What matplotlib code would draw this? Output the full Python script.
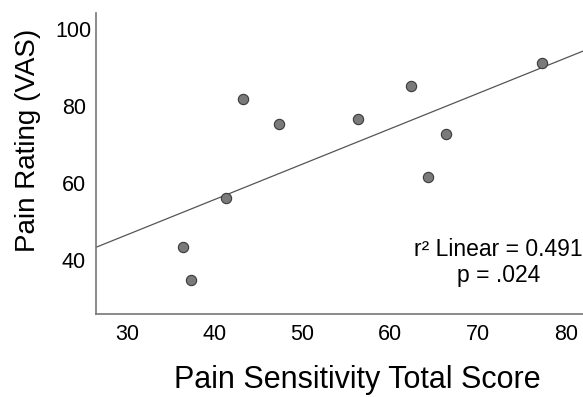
import matplotlib.pyplot as plt
import numpy as np

plt.rcParams['font.family'] = ['Liberation Sans', 'DejaVu Sans']

# values
sensitivity = [43.2, 47.3, 56.3, 62.3, 66.3, 77.3, 41.3, 36.3, 37.3, 64.3]
pain_rating = [81.7, 75.2, 76.5, 85.1, 72.6, 91.2, 56.1, 43.2, 34.7, 61.4]
x_ticks = [30, 40, 50, 60, 70, 80]
y_ticks = [40, 60, 80, 100]

fig = plt.figure(figsize=(5.83, 3.97), dpi=100)
ax = fig.add_axes([0.1647, 0.2083, 0.8353, 0.7597])

x_lo, x_hi = 26.44, 81.96
ax.set_xlim(x_lo, x_hi)
ax.set_ylim(25.75, 104.2)

# linear fit
slope, intercept = np.polyfit(sensitivity, pain_rating, 1)
fx = np.array([x_lo, x_hi])
ax.plot(fx, slope * fx + intercept, color="#555555", lw=0.9, zorder=2)

ax.scatter(sensitivity, pain_rating, s=55, color="#7a7a7a",
           edgecolor="#3a3a3a", linewidth=0.8, zorder=3)

ax.text(0.826, 0.171, "r² Linear = 0.491\np = .024", transform=ax.transAxes,
        ha="center", va="center", fontsize=16.5, linespacing=1.17)

ax.set_xticks(x_ticks)
ax.set_yticks(y_ticks)
ax.tick_params(length=0, labelsize=15.5)
ax.tick_params(axis="x", pad=7)
ax.tick_params(axis="y", pad=16)
for lab in ax.get_yticklabels():
    lab.set_horizontalalignment("center")
for s in ["top", "right"]:
    ax.spines[s].set_visible(False)
for s in ["left", "bottom"]:
    ax.spines[s].set_color("#777777")
    ax.spines[s].set_linewidth(1.2)

ax.set_xlabel("Pain Sensitivity Total Score", fontsize=22, va="center")
ax.set_ylabel("Pain Rating (VAS)", fontsize=20, va="center")
ax.xaxis.set_label_coords(0.536, -0.218)
ax.yaxis.set_label_coords(-0.1396, 0.578)

fig.savefig("out.png", dpi=100)
